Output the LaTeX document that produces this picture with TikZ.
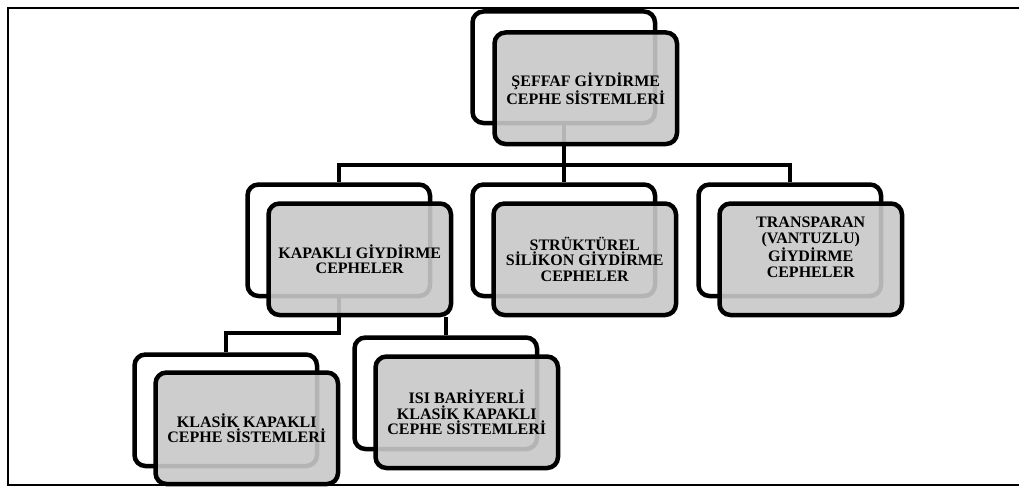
\documentclass[tikz,border=0pt]{standalone}
\usepackage{fontspec}
\setmainfont{Liberation Serif}
\definecolor{boxgray}{RGB}{200,200,200}
\begin{document}
\begin{tikzpicture}[x=1pt,y=-1pt,
  back/.style={draw=black,line width=4.5pt,fill=white,rounded corners=11pt,
    minimum width=182.5pt,minimum height=111.5pt,anchor=north west,inner sep=0pt},
  front/.style={draw=black,line width=4.5pt,fill=boxgray,fill opacity=0.9,rounded corners=11pt,
    minimum width=182.5pt,minimum height=111.5pt,anchor=north west,inner sep=0pt},
  lbl/.style={font=\bfseries\fontsize{16}{15.5}\selectfont,align=center,inner sep=0pt,text=black},
  conn/.style={draw=black,line width=4.5pt}]
\useasboundingbox (0,0) rectangle (1019,487);
% outer frame (right edge beyond the page)
\draw[line width=2pt] (1040,8) -- (8,8) -- (8,485) -- (1040,485);
% bus coordinates
\coordinate (bus1) at (0,165);
\coordinate (bus2) at (0,333);
% back boxes
\node[back] (rb) at (470.25,9.25) {};
\node[back] (kb) at (245.25,182.25) {};
\node[back] (sb) at (470.25,182.25) {};
\node[back] (tb) at (696.25,182.25) {};
\node[back] (lb) at (132.25,352.25) {};
\node[back] (ib) at (352.25,335.25) {};
% connectors
\draw[conn] (rb.south) -- (rb.south |- bus1) -| (kb.north);
\draw[conn] (rb.south) -- (sb.north);
\draw[conn] (rb.south) -- (rb.south |- bus1) -| (tb.north);
\draw[conn] (kb.south) -- (kb.south |- bus2) -| (lb.north);
% front boxes
\node[front] (rf) at (492.25,30.25) {};
\node[front] (kf) at (266.25,201.25) {};
\node[front] (sf) at (491.25,201.25) {};
\node[front] (tf) at (717.25,201.25) {};
\node[front] (lf) at (153.25,370.25) {};
\node[front] (if) at (373.25,354.25) {};
\draw[conn] (ib.north) -- (ib.north |- kf.south);
% labels
\node[lbl] (rt) at (rf.center) {ŞEFFAF GİYDİRME\\CEPHE SİSTEMLERİ};
\node[lbl] (kt) at (kf.center) {KAPAKLI GİYDİRME\\CEPHELER};
\node[lbl] (st) at (sf.center) {STRÜKTÜREL\\SİLİKON GİYDİRME\\CEPHELER};
\node[lbl] (tt) at ([yshift=12pt]tf.center) {TRANSPARAN\\(VANTUZLU)\\GİYDİRME\\CEPHELER};
\node[lbl] (lt) at (lf.center) {KLASİK KAPAKLI\\CEPHE SİSTEMLERİ};
\node[lbl] (it) at (if.center) {ISI BARİYERLİ\\KLASİK KAPAKLI\\CEPHE SİSTEMLERİ};
\end{tikzpicture}
\end{document}
